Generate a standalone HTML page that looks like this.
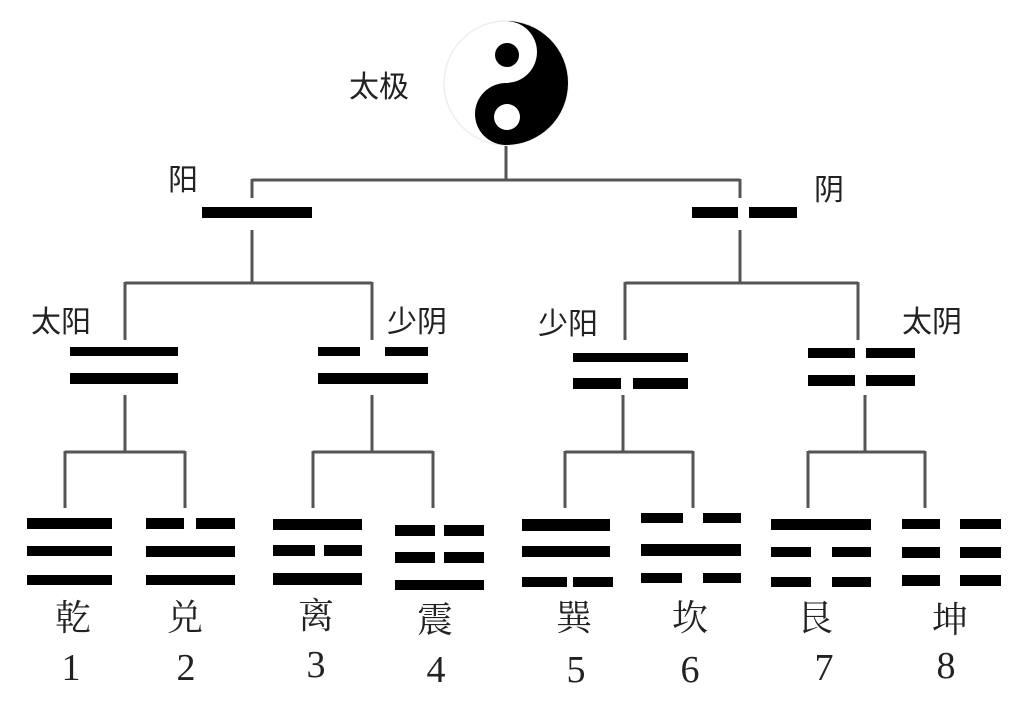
<!DOCTYPE html>
<html><head><meta charset="utf-8"><style>
html,body{margin:0;padding:0;background:#fff;}
svg{display:block;}
.c{font-family:"Liberation Sans","Noto Sans CJK SC",sans-serif;font-size:30px;fill:#222;}
.g{font-family:"Liberation Serif","Noto Serif CJK SC",serif;font-size:36px;fill:#222;}
.n{font-family:"Liberation Serif",serif;font-size:38px;fill:#222;}
</style></head><body>
<svg width="1028" height="702" viewBox="0 0 1028 702" xmlns="http://www.w3.org/2000/svg">
<rect width="1028" height="702" fill="#fff"/>
<!-- taiji -->
<circle cx="506" cy="83" r="62" fill="#fff" stroke="#eee" stroke-width="1.5"/>
<path d="M506,21 A62,62 0 0 1 506,145 A31,31 0 0 1 506,83 A31,31 0 0 0 506,21 Z" fill="#000"/>
<circle cx="507" cy="55" r="12" fill="#000"/>
<circle cx="507" cy="117" r="13" fill="#fff"/>
<g stroke="#555" stroke-width="3" fill="none">
<path d="M506,146 V180 M252,180 H740 M252,179 V198 M740,179 V198"/>
<path d="M252,230 V283 M125,283 H372 M125,282 V340 M372,282 V340"/>
<path d="M740,230 V283 M625,283 H858 M625,282 V340 M858,282 V340"/>
<path d="M125,395 V452 M65,452 H185 M65,451 V508 M185,451 V508"/>
<path d="M372,395 V452 M313,452 H433 M313,451 V508 M433,451 V508"/>
<path d="M623,395 V452 M565,452 H693 M565,451 V508 M693,451 V508"/>
<path d="M865,395 V452 M808,452 H925 M808,451 V508 M925,451 V508"/>
</g>
<g fill="#000">
<!-- yang / yin -->
<rect x="202" y="207" width="110" height="11"/>
<rect x="692" y="207" width="46" height="11"/><rect x="749" y="207" width="48" height="11"/>
<!-- 太阳 -->
<rect x="70" y="347" width="108" height="9"/><rect x="70" y="373" width="108" height="11"/>
<!-- 少阴 -->
<rect x="318" y="347" width="42" height="9"/><rect x="385" y="347" width="43" height="9"/>
<rect x="318" y="373" width="110" height="11"/>
<!-- 少阳 -->
<rect x="573" y="353" width="115" height="9"/>
<rect x="573" y="378" width="48" height="11"/><rect x="633" y="378" width="55" height="11"/>
<!-- 太阴 -->
<rect x="808" y="348" width="47" height="10"/><rect x="866" y="348" width="49" height="10"/>
<rect x="808" y="375" width="47" height="11"/><rect x="866" y="375" width="49" height="11"/>
<!-- 乾 -->
<rect x="27" y="518" width="85" height="11"/><rect x="27" y="546" width="85" height="10"/><rect x="27" y="575" width="85" height="10"/>
<!-- 兑 -->
<rect x="146" y="518" width="38" height="11"/><rect x="196" y="518" width="39" height="11"/>
<rect x="146" y="546" width="89" height="11"/><rect x="146" y="575" width="89" height="10"/>
<!-- 离 -->
<rect x="273" y="519" width="89" height="11"/>
<rect x="273" y="545" width="42" height="11"/><rect x="324" y="545" width="38" height="11"/>
<rect x="273" y="573" width="89" height="12"/>
<!-- 震 -->
<rect x="395" y="525" width="40" height="11"/><rect x="444" y="525" width="40" height="11"/>
<rect x="395" y="552" width="40" height="11"/><rect x="444" y="552" width="40" height="11"/>
<rect x="395" y="580" width="89" height="10"/>
<!-- 巽 -->
<rect x="522" y="519" width="88" height="12"/><rect x="522" y="546" width="88" height="11"/>
<rect x="522" y="577" width="45" height="10"/><rect x="573" y="577" width="40" height="10"/>
<!-- 坎 -->
<rect x="641" y="513" width="42" height="10"/><rect x="703" y="513" width="38" height="10"/>
<rect x="641" y="544" width="100" height="12"/>
<rect x="641" y="573" width="41" height="10"/><rect x="703" y="573" width="38" height="10"/>
<!-- 艮 -->
<rect x="771" y="519" width="100" height="11"/>
<rect x="771" y="547" width="40" height="10"/><rect x="832" y="547" width="39" height="10"/>
<rect x="771" y="577" width="40" height="10"/><rect x="832" y="577" width="39" height="10"/>
<!-- 坤 -->
<rect x="902" y="519" width="38" height="10"/><rect x="960" y="519" width="41" height="10"/>
<rect x="902" y="547" width="38" height="11"/><rect x="960" y="547" width="41" height="11"/>
<rect x="902" y="575" width="38" height="11"/><rect x="960" y="575" width="41" height="11"/>
</g>
<g class="c">
<text x="349" y="97">太极</text>
<text x="168" y="190">阳</text>
<text x="814" y="200">阴</text>
<text x="31" y="332">太阳</text>
<text x="387" y="332">少阴</text>
<text x="538" y="334">少阳</text>
<text x="902" y="332">太阴</text>
</g>
<g class="g" text-anchor="middle">
<text x="73" y="630">乾</text><text x="185" y="630">兑</text><text x="316" y="628">离</text><text x="435" y="632">震</text>
<text x="574" y="630">巽</text><text x="690" y="630">坎</text><text x="815" y="630">艮</text><text x="950" y="632">坤</text>
</g>
<g class="n" text-anchor="middle">
<text x="71" y="680">1</text><text x="186" y="680">2</text><text x="316" y="677">3</text><text x="436" y="682">4</text>
<text x="576" y="682">5</text><text x="690" y="682">6</text><text x="824" y="680">7</text><text x="946" y="678">8</text>
</g>
</svg>
</body></html>
